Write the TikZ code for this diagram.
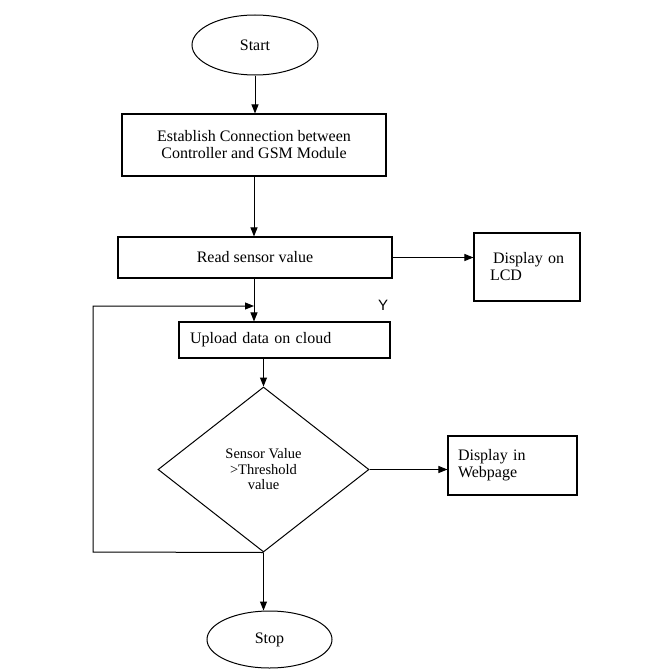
\documentclass[tikz,border=0pt]{standalone}
\usepackage{fontspec}
\setmainfont{Liberation Serif}
\newfontfamily\ysans{Liberation Sans}
\usetikzlibrary{shapes.geometric,arrows.meta}
\begin{document}
\begin{tikzpicture}[x=1pt,y=-1pt,
  every node/.style={font=\fontsize{16}{17}\selectfont},
  line/.style={draw=black,line width=1pt},
  arr/.style={line,-{Triangle[length=9pt,width=7pt]}},
  term/.style={ellipse,draw,line width=1pt,inner sep=0pt},
  procbox/.style={rectangle,draw,line width=1.1pt,inner sep=0pt},
  decide/.style={diamond,draw,line width=1pt,inner sep=0pt,align=center,font=\fontsize{14.5}{15.5}\selectfont}
]
\useasboundingbox (0,0) rectangle (648,669);
\fill[white] (0,0) rectangle (648,669);

\node[term,minimum width=126pt,minimum height=60pt] (start) at (255,45) {Start};
\node[procbox,minimum width=264pt,minimum height=62pt,align=center] (b1) at (254,145) {Establish Connection between\\Controller and GSM Module};
\node[procbox,minimum width=274pt,minimum height=41pt] (b2) at (255,257.5) {Read sensor value};
\node[procbox,minimum width=106pt,minimum height=68pt,text width=90pt,align=left] (lcd) at (527,267) {\hspace*{11pt}Display on\\\hspace*{8pt}LCD};
\node[procbox,minimum width=211pt,minimum height=36pt,text width=189pt,align=left] (b3) at (284.5,340) {Upload data on cloud};
\node[decide,minimum width=211pt,minimum height=165pt] (dec) at (263.5,469.5) {Sensor Value\\>Threshold\\value};
\node[procbox,minimum width=129pt,minimum height=59pt,text width=109pt,align=left] (web) at (512.5,465.5) {Display in\\Webpage};
\node[term,minimum width=125pt,minimum height=57pt] (stop) at (269.5,639.5) {Stop};
\node[font=\ysans\fontsize{15}{17}\selectfont] (y) at (383,305) {Y};

\coordinate (lpa) at (93,552);
\coordinate (lpb) at (93,306);

\draw[arr] (start.south) -- (start.south |- b1.north);
\draw[arr] (b1.south) -- (b1.south |- b2.north);
\draw[arr] (b2.east) -- (b2.east -| lcd.west);
\draw[arr] ([xshift=-1pt]b2.south) -- ([xshift=-1pt]b2.south |- b3.north);
\draw[arr] (dec.north |- b3.south) -- (dec.north);
\draw[arr] (dec.east) -- (dec.east -| web.west);
\draw[arr] (dec.south) -- (lpa) -- (lpb) -- ([xshift=-1pt]lpb -| b2.south);
\draw[arr] (dec.south) -- (dec.south |- stop.north);
\end{tikzpicture}
\end{document}
